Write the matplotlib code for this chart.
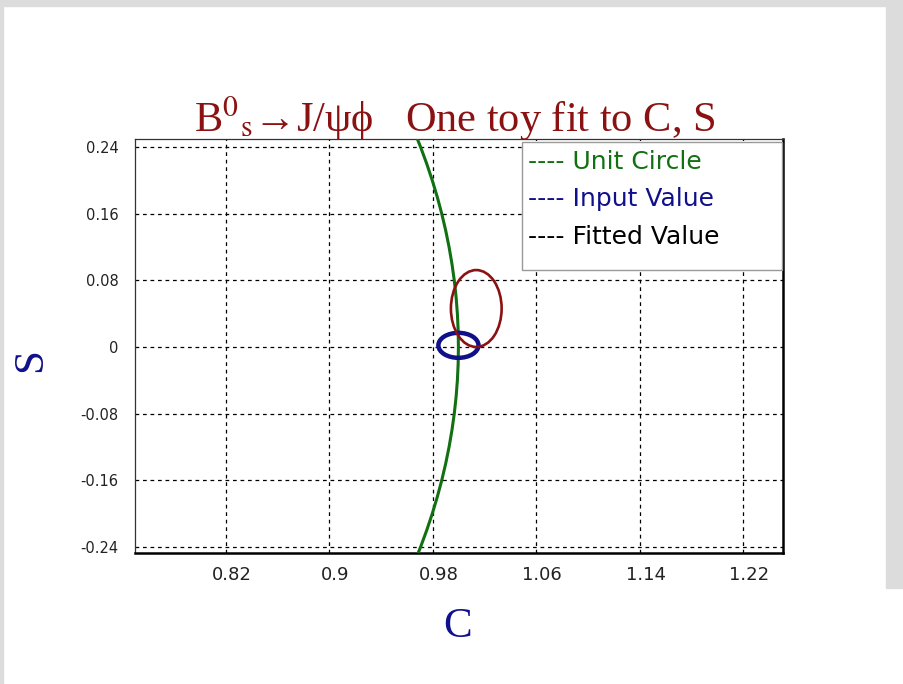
import numpy as np
import matplotlib.pyplot as plt
import matplotlib.transforms as mtransforms
from matplotlib.patches import Ellipse, Rectangle

# S values sampled along the unit circle curve (C = sqrt(1 - S^2))
s_curve = np.array([-0.26, -0.24, -0.22, -0.2, -0.18, -0.16, -0.14, -0.12, -0.1, -0.08, -0.06,
                    -0.04, -0.02, 0.0, 0.02, 0.04, 0.06, 0.08, 0.1, 0.12, 0.14, 0.16, 0.18,
                    0.2, 0.22, 0.24, 0.26])

# ellipses: centre C, centre S, full width in C, full height in S
input_val = [1.0, 0.002, 0.031, 0.030]
fitted_val = [1.0138, 0.0462, 0.0392, 0.0923]

xticks = [0.82, 0.9, 0.98, 1.06, 1.14, 1.22]
xlabels = ["0.82", "0.9", "0.98", "1.06", "1.14", "1.22"]
yticks = [0.24, 0.16, 0.08, 0.0, -0.08, -0.16, -0.24]
ylabels = ["0.24", "0.16", "0.08", "0", "-0.08", "-0.16", "-0.24"]

green = "#117011"
navy = "#10108a"
darkred = "#8a1212"

plt.rcParams['mathtext.fontset'] = 'stix'
W, H = 904, 684
fig = plt.figure(figsize=(W / 100, H / 100), dpi=100)
fig.patch.set_facecolor("white")
grey = "#dcdcdc"
fig.patches.append(Rectangle((0, 1 - 6 / H), 1, 6 / H, transform=fig.transFigure, color=grey, zorder=0))
fig.patches.append(Rectangle((0, 0), 3 / W, 1, transform=fig.transFigure, color=grey, zorder=0))
fig.patches.append(Rectangle((886 / W, 0.14), 18 / W, 0.86, transform=fig.transFigure, color=grey, zorder=0))

ax = fig.add_axes([135 / W, 1 - 553 / H, 648 / W, 414 / H])
ax.set_xlim(0.75, 1.2509)
ax.set_ylim(-0.2473, 0.2497)

ax.set_xticks(xticks)
ax.set_xticklabels(xlabels)
ax.set_yticks(yticks)
ax.set_yticklabels(ylabels)
ax.tick_params(length=0)
ax.tick_params(axis="x", labelsize=13, pad=9, colors="#222222")
ax.tick_params(axis="y", labelsize=10.5, pad=12, colors="#222222")
ax.grid(True, color="black", linestyle=(0, (3, 3)), linewidth=0.9)
shift = mtransforms.ScaledTranslation(6 / 100, 0, fig.dpi_scale_trans)
for lab in ax.get_xticklabels():
    lab.set_transform(lab.get_transform() + shift)

for side in ["left", "top"]:
    ax.spines[side].set_linewidth(0.9)
    ax.spines[side].set_color("#333333")
for side in ["bottom", "right"]:
    ax.spines[side].set_linewidth(1.8)
    ax.spines[side].set_color("black")

c_curve = np.sqrt(1 - s_curve ** 2)
ax.plot(c_curve, s_curve, color=green, linewidth=2.2, zorder=3)

ax.add_patch(Ellipse((input_val[0], input_val[1]), input_val[2], input_val[3],
                     fill=False, edgecolor=navy, linewidth=3.2, zorder=3))
ax.add_patch(Ellipse((fitted_val[0], fitted_val[1]), fitted_val[2], fitted_val[3],
                     fill=False, edgecolor=darkred, linewidth=1.9, zorder=3))

# legend box
ax.add_patch(Rectangle(((522 - 135) / 648, (553 - 270) / 414), 260 / 648, 128 / 414,
                       transform=ax.transAxes, facecolor="white", edgecolor="#999999",
                       linewidth=1.0, zorder=5, clip_on=False))
names = ["---- Unit Circle", "---- Input Value", "---- Fitted Value"]
cols = [green, navy, "black"]
hs = [plt.Line2D([], [], linestyle="none") for _ in names]
leg = ax.legend(hs, names, loc="upper left", bbox_to_anchor=((528 - 135) / 648, (553 - 150) / 414),
                frameon=False, handlelength=0, handletextpad=0, borderpad=0, borderaxespad=0,
                labelspacing=0.53, fontsize=18)
leg.set_zorder(6)
for t, c in zip(leg.get_texts(), cols):
    t.set_color(c)

serif = ["Liberation Serif", "DejaVu Serif"]
fig.text(455 / W, 1 - 132 / H, r"B$^{0}{}_{\mathrm{s}}$→J/ψϕ   One toy fit to C, S", family=serif,
         fontsize=30.5, color=darkred, ha="center", va="baseline")
fig.text(458 / W, 1 - 637 / H, "C", family=serif, fontsize=31, color=navy, ha="center", va="baseline")
fig.text(31 / W, 1 - 360 / H, "S", family=serif, fontsize=31, color=navy, ha="center", va="center",
         rotation=90)

fig.savefig("out.png", dpi=100)
